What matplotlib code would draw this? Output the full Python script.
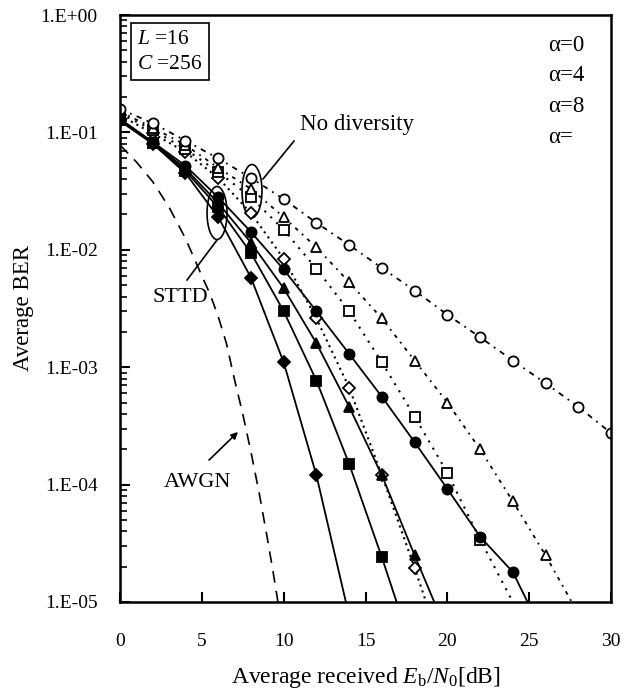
import matplotlib
matplotlib.use("Agg")
import matplotlib.pyplot as plt
from matplotlib.patches import Ellipse

plt.rcParams['font.family'] = ['Liberation Serif', 'DejaVu Serif']
plt.rcParams['mathtext.fontset'] = 'custom'
plt.rcParams['mathtext.rm'] = 'Liberation Serif'
plt.rcParams['mathtext.it'] = 'Liberation Serif:italic'

# STTD (filled markers, solid); last point is where the curve leaves the axes
x_sttd_a0 = [0, 2, 4, 6, 8, 10, 12, 14, 16, 18, 20, 22, 24, 24.9]
ber_sttd_a0 = [0.13, 0.083, 0.052, 0.028, 0.0142, 0.0068, 0.0030, 0.0013, 0.00056, 0.00023, 9.2e-5, 3.6e-5, 1.8e-5, 1e-5]
x_sttd_a4 = [0, 2, 4, 6, 8, 10, 12, 14, 16, 18, 19.2]
ber_sttd_a4 = [0.13, 0.082, 0.049, 0.025, 0.0115, 0.0047, 0.0016, 0.00046, 0.00012, 2.5e-5, 1e-5]
x_sttd_a8 = [0, 2, 4, 6, 8, 10, 12, 14, 16, 16.9]
ber_sttd_a8 = [0.128, 0.081, 0.047, 0.023, 0.0094, 0.0030, 0.00077, 0.00015, 2.4e-5, 1e-5]
x_sttd_ainf = [0, 2, 4, 6, 8, 10, 12, 13.8]
ber_sttd_ainf = [0.125, 0.08, 0.045, 0.019, 0.0058, 0.0011, 0.00012, 1e-5]

# no diversity (open markers, dotted)
x_nd_a0 = [0, 2, 4, 6, 8, 10, 12, 14, 16, 18, 20, 22, 24, 26, 28, 30]
ber_nd_a0 = [0.158, 0.12, 0.085, 0.06, 0.041, 0.027, 0.017, 0.011, 0.007, 0.0045, 0.0028, 0.0018, 0.00114, 0.00073, 0.00046, 0.000275]
x_nd_a4 = [0, 2, 4, 6, 8, 10, 12, 14, 16, 18, 20, 22, 24, 26, 27.6]
ber_nd_a4 = [0.15, 0.11, 0.078, 0.05, 0.033, 0.019, 0.0105, 0.0053, 0.0026, 0.00114, 0.0005, 0.0002, 7.2e-5, 2.5e-5, 1e-5]
x_nd_a8 = [0, 2, 4, 6, 8, 10, 12, 14, 16, 18, 20, 22, 24.0]
ber_nd_a8 = [0.145, 0.105, 0.072, 0.046, 0.028, 0.0148, 0.0069, 0.0030, 0.0011, 0.00038, 0.000126, 3.4e-5, 1e-5]
x_nd_ainf = [0, 2, 4, 6, 8, 10, 12, 14, 16, 18, 18.7]
ber_nd_ainf = [0.14, 0.098, 0.068, 0.041, 0.0205, 0.0084, 0.0026, 0.00067, 0.00012, 1.95e-5, 1e-5]

# AWGN
x_awgn = [0, 1, 2, 3, 4, 5, 5.5, 6, 6.5, 7, 7.5, 8, 8.5, 9, 9.3, 9.65]
ber_awgn = [0.078, 0.056, 0.038, 0.023, 0.0125, 0.006, 0.0042, 0.0027, 0.0016, 0.00078, 0.0004, 0.00019, 8.5e-5, 3.5e-5, 2e-5, 1e-5]

ytick_vals = [1, 1e-1, 1e-2, 1e-3, 1e-4, 1e-5]
ytick_labels = ['1.E+00', '1.E-01', '1.E-02', '1.E-03', '1.E-04', '1.E-05']
alpha_labels = ['α=0', 'α=4', 'α=8', 'α=']

fig = plt.figure(figsize=(6.29, 6.89), dpi=100)
ax = fig.add_axes([0.1908, 0.1263, 0.7806, 0.8519])

def curve(x, y, ls, marker, filled, lw=1.3):
    n = len(x) - 1 if y[-1] <= 1e-5 else len(x)
    ms = 6.2 if marker == 'D' else 7.3
    ax.plot(x, y, color='black', ls=ls, lw=lw, marker=marker, ms=ms,
            markevery=list(range(n)),
            mfc='black' if filled else 'white', mec='black', mew=1.3)

# no diversity first (drawn underneath)
curve(x_nd_ainf, ber_nd_ainf, (0, (1, 2)), 'D', False, 1.5)
curve(x_nd_a8, ber_nd_a8, (0, (1, 3)), 's', False, 1.5)
curve(x_nd_a4, ber_nd_a4, (0, (2, 3, 1, 3)), '^', False, 1.3)
curve(x_nd_a0, ber_nd_a0, (0, (3, 3, 1, 3)), 'o', False, 1.3)

ax.plot(x_awgn, ber_awgn, color='black', ls=(0, (7, 5)), lw=1.2)

curve(x_sttd_ainf, ber_sttd_ainf, '-', 'D', True)
curve(x_sttd_a8, ber_sttd_a8, '-', 's', True)
curve(x_sttd_a4, ber_sttd_a4, '-', '^', True)
curve(x_sttd_a0, ber_sttd_a0, '-', 'o', True)

ax.set_yscale('log')
ax.set_xlim(0, 30)
ax.set_ylim(1e-5, 1)
ax.set_xticks([0, 5, 10, 15, 20, 25, 30])
ax.set_yticks(ytick_vals)
ax.set_yticklabels(ytick_labels)
ax.tick_params(axis='both', which='major', direction='in', length=7, width=1.5,
               labelsize=14)
ax.tick_params(axis='y', which='major', pad=16)
ax.tick_params(axis='x', which='major', pad=22)
ax.tick_params(axis='y', which='minor', direction='in', length=5, width=1.2)
ax.tick_params(axis='x', which='minor', bottom=False)
for s in ax.spines.values():
    s.set_linewidth(1.8)

ax.set_ylabel('Average BER', fontsize=16.5, labelpad=5)
ax.set_xlabel(r'Average received $\mathit{E}_{\mathrm{b}}/\mathit{N}_{\mathrm{0}}$[dB]',
              fontsize=17, labelpad=11)

# parameter box
ax.text(0.035, 0.975, '$L$ =16\n$C$ =256', transform=ax.transAxes, fontsize=15.5,
        va='top', ha='left', linespacing=1.45,
        bbox=dict(boxstyle='square,pad=0.3', fc='white', ec='black', lw=1.2))

for i, lab in enumerate(alpha_labels):
    ax.text(0.872, 0.9489 - i * 0.0523, lab, transform=ax.transAxes, fontsize=16.5,
            va='center', ha='left')

# ellipses and annotations
ax.add_patch(Ellipse((0.1976, 0.6627), 0.0407, 0.0903, transform=ax.transAxes,
                     fill=False, ec='black', lw=1.2))
ax.add_patch(Ellipse((0.2688, 0.7002), 0.0407, 0.0903, transform=ax.transAxes,
                     fill=False, ec='black', lw=1.2))
ax.plot([0.1976, 0.1365], [0.6167, 0.5486], transform=ax.transAxes, color='black', lw=1.2)
ax.text(0.1222, 0.5179, 'STTD', transform=ax.transAxes, fontsize=16, ha='center', va='center')
ax.plot([0.2912, 0.3544], [0.7206, 0.7853], transform=ax.transAxes, color='black', lw=1.2)
ax.text(0.3666, 0.8143, 'No diversity', transform=ax.transAxes, fontsize=16.5, ha='left', va='center')
ax.annotate('', xy=(0.2444, 0.2930), xytext=(0.1772, 0.2385), xycoords='axes fraction',
            arrowprops=dict(arrowstyle='-|>', color='black', lw=1.2, mutation_scale=10))
ax.text(0.1568, 0.2044, 'AWGN', transform=ax.transAxes, fontsize=16, ha='center', va='center')

fig.savefig('out.png', dpi=100)
